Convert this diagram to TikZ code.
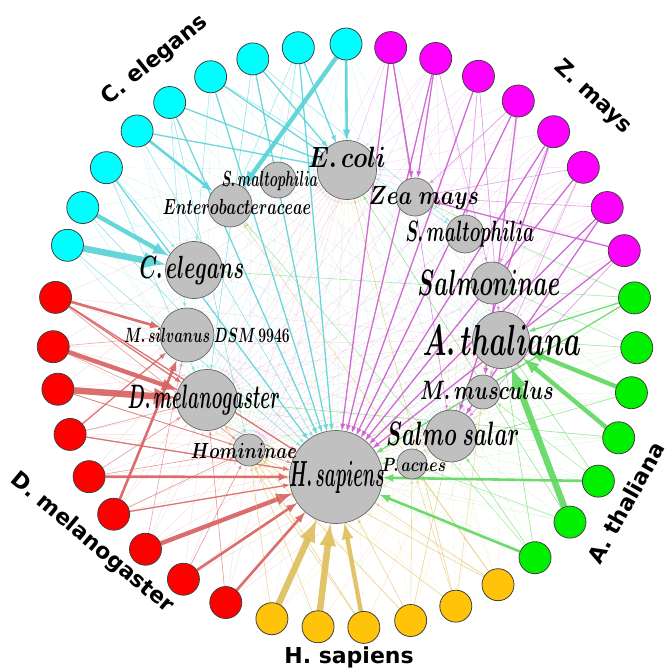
\documentclass[tikz,border=0pt]{standalone}
\usepackage{fontspec}
\newfontfamily\grpfont{DejaVu Sans}
\usetikzlibrary{arrows,backgrounds}

\definecolor{celcol}{RGB}{0,255,255}
\definecolor{dmcol}{RGB}{255,0,0}
\definecolor{hscol}{RGB}{255,195,10}
\definecolor{atcol}{RGB}{0,240,0}
\definecolor{zmcol}{RGB}{255,0,255}
\definecolor{celE}{RGB}{85,210,215}
\definecolor{dmE}{RGB}{215,95,95}
\definecolor{hsE}{RGB}{222,190,90}
\definecolor{atE}{RGB}{95,215,95}
\definecolor{zmE}{RGB}{200,85,205}
\definecolor{taxgray}{RGB}{192,192,192}

\begin{document}
\begin{tikzpicture}[x=1pt,y=-1pt,>=latex,
	leaf/.style={circle,draw=black!75,line width=0.8pt,minimum size=32pt,inner sep=0pt},
	taxon/.style={circle,draw=black!60,fill=taxgray,line width=0.7pt,inner sep=0pt},
	sp/.style={font=\Huge\boldmath,inner sep=0pt},
	grp/.style={font={\grpfont\bfseries\fontsize{22}{22}\selectfont},inner sep=0pt},
	w1/.style={line width=0.6pt,opacity=0.55},
	w2/.style={line width=1.3pt,opacity=0.85},
	w3/.style={line width=2.6pt,opacity=0.9},
	w4/.style={line width=4.4pt,opacity=0.9},
	w5/.style={line width=6.5pt,opacity=0.9},
	faint/.style={line width=0.4pt,opacity=0.22}]
	
	\useasboundingbox (0,0) rectangle (670,671);
	
	% outer ring
	\foreach \a [count=\i from 0] in {89.8,99.2,108.4,117.4,126.9,135.4,144.8,153.9,161.9}
		\node[leaf,fill=celcol] (ce\i) at ({345+292*cos(\a)},{336-292*sin(\a)}) {};
	\foreach \a [count=\i from 0] in {172.4,182.1,190.5,199.7,208.8,217.6,226.9,236.4,245.9}
		\node[leaf,fill=dmcol] (dm\i) at ({345+292*cos(\a)},{336-292*sin(\a)}) {};
	\foreach \a [count=\i from 0] in {255.5,264.7,273.7,283.0,292.3,301.6}
		\node[leaf,fill=hscol] (hs\i) at ({345+292*cos(\a)},{336-292*sin(\a)}) {};
	\foreach \a [count=\i from 0] in {310.6,320.4,330.2,339.6,348.8,357.7,367.5}
		\node[leaf,fill=atcol] (at\i) at ({345+292*cos(\a)},{336-292*sin(\a)}) {};
	\foreach \a [count=\i from 0] in {17.0,26.1,35.3,44.4,53.6,62.8,71.9,81.0}
		\node[leaf,fill=zmcol] (zm\i) at ({345+292*cos(\a)},{336-292*sin(\a)}) {};
	
	% taxa
	\node[taxon,minimum size=59pt] (ecoli) at (347,170) {};
	\node[taxon,minimum size=36pt] (smaltoL) at (278,180) {};
	\node[taxon,minimum size=44pt] (entero) at (230,205) {};
	\node[taxon,minimum size=57pt] (celeg) at (194,270) {};
	\node[taxon,minimum size=54pt] (msilv) at (187,335) {};
	\node[taxon,minimum size=61pt] (dmel) at (207,400) {};
	\node[taxon,minimum size=32pt] (homin) at (249,450) {};
	\node[taxon,minimum size=93pt] (hsap) at (336,477) {};
	\node[taxon,minimum size=38pt] (zea) at (415,197) {};
	\node[taxon,minimum size=38pt] (smaltoR) at (465,234) {};
	\node[taxon,minimum size=42pt] (salmonin) at (492,283) {};
	\node[taxon,minimum size=57pt] (athal) at (501,340) {};
	\node[taxon,minimum size=34pt] (mmus) at (483,392) {};
	\node[taxon,minimum size=52pt] (ssalar) at (451,436) {};
	\node[taxon,minimum size=30pt] (pacnes) at (412,464) {};
	
	\begin{scope}[on background layer]
		% faint web
		\foreach \g/\n/\c in {ce/8/celE,dm/8/dmE,hs/5/hsE,at/6/atE,zm/7/zmE}
			\foreach \i in {0,...,\n}
				\foreach \t in {hsap,homin,dmel,ssalar,ecoli,athal}
					\draw[->,faint,\c] (\g\i) -- (\t);
		
		% C. elegans
		\foreach \s/\t/\w in {ce0/entero/4,ce0/ecoli/3,ce1/ecoli/2,ce1/hsap/2,ce1/entero/1,ce1/smaltoL/1,
			ce2/ecoli/2,ce2/hsap/2,ce2/dmel/1,ce2/smaltoR/1,ce3/ecoli/2,ce3/hsap/2,ce3/smaltoR/1,ce3/celeg/1,
			ce4/ecoli/2,ce4/hsap/2,ce4/msilv/1,ce4/homin/1,ce5/entero/3,ce5/ecoli/2,ce5/hsap/1,
			ce6/hsap/2,ce6/celeg/1,ce6/dmel/1,ce7/celeg/4,ce7/hsap/1,ce8/celeg/5,ce8/hsap/1}
			\draw[->,w\w,celE] (\s) -- (\t);
		% D. melanogaster
		\foreach \s/\t/\w in {dm0/msilv/3,dm0/dmel/2,dm0/hsap/2,dm0/homin/1,dm1/dmel/4,dm1/hsap/1,dm1/msilv/1,
			dm2/dmel/5,dm2/hsap/1,dm2/homin/1,dm3/msilv/2,dm3/hsap/2,dm3/dmel/1,dm4/hsap/3,dm4/dmel/1,dm4/homin/1,
			dm5/msilv/3,dm5/hsap/2,dm5/homin/1,dm6/hsap/4,dm6/msilv/1,dm7/hsap/3,dm7/homin/1,dm8/hsap/3,dm8/dmel/1}
			\draw[->,w\w,dmE] (\s) -- (\t);
		% H. sapiens
		\foreach \s/\t/\w in {hs0/hsap/5,hs1/hsap/5,hs2/hsap/4,hs0/homin/1,hs1/homin/1,hs2/homin/1,hs3/homin/1,
			hs4/homin/1,hs5/homin/1,hs3/ssalar/1,hs3/pacnes/1,hs4/pacnes/1,hs4/mmus/1,hs5/pacnes/1,hs5/entero/1,
			hs4/ecoli/1,hs3/hsap/1,hs5/hsap/1,hs2/dmel/1}
			\draw[->,w\w,hsE] (\s) -- (\t);
		% A. thaliana
		\foreach \s/\t/\w in {at0/hsap/3,at0/entero/1,at0/athal/1,at0/ssalar/1,at1/athal/5,at1/ecoli/1,at1/pacnes/1,
			at2/hsap/3,at2/athal/1,at2/mmus/1,at3/athal/4,at3/dmel/1,at4/athal/4,at4/hsap/1,
			at5/athal/1,at5/salmonin/1,at6/hsap/2,at6/athal/2,at6/celeg/1,at6/zea/1}
			\draw[->,w\w,atE] (\s) -- (\t);
		% Z. mays
		\foreach \s/\t/\w in {zm0/zea/2,zm0/hsap/2,zm0/ssalar/1,zm1/hsap/2,zm1/ssalar/2,zm1/zea/1,
			zm2/hsap/2,zm2/mmus/1,zm2/zea/1,zm3/hsap/2,zm3/ssalar/2,zm3/salmonin/1,zm4/hsap/2,zm4/mmus/2,zm4/zea/1,
			zm5/hsap/2,zm5/athal/1,zm5/smaltoR/1,zm6/zea/2,zm6/hsap/2,zm6/salmonin/1,zm7/zea/2,zm7/hsap/2,zm7/ssalar/1}
			\draw[->,w\w,zmE] (\s) -- (\t);
	\end{scope}
	
	% taxon names
	\node[sp,xscale=0.96,yscale=1.18] (ecoliT) at (347,157) {$E.\,coli$};
	\node[sp,xscale=0.53,yscale=0.88] (smaltoLT) at (270,181) {$S.\,maltophilia$};
	\node[sp,xscale=0.61,yscale=0.88] (enteroT) at (237,207) {$Enterobacteraceae$};
	\node[sp,xscale=0.80,yscale=1.29] (celegT) at (192,270) {$C.\,elegans$};
	\node[sp,xscale=0.56,yscale=0.83] (msilvT) at (207,335) {$M.\,silvanus\ DSM\,9946$};
	\node[sp,xscale=0.71,yscale=1.36] (dmelT) at (204,400) {$D.\,melanogaster$};
	\node[sp,xscale=0.70,yscale=0.88] (hominT) at (244,451) {$Homininae$};
	\node[sp,xscale=0.70,yscale=1.46] (hsapT) at (337,477) {$H.\,sapiens$};
	\node[sp,xscale=0.86,yscale=1.06] (zeaT) at (424,198) {$Zea\ mays$};
	\node[sp,xscale=0.71,yscale=1.18] (smaltoRT) at (470,234) {$S.\,maltophilia$};
	\node[sp,xscale=0.90,yscale=1.47] (salmoninT) at (489,283) {$Salmoninae$};
	\node[sp,xscale=1.09,yscale=1.75] (athalT) at (502,340) {$A.\,thaliana$};
	\node[sp,xscale=0.80,yscale=1.07] (mmusT) at (487,390) {$M.\,musculus$};
	\node[sp,xscale=0.84,yscale=1.36] (ssalarT) at (453,434) {$Salmo\ salar$};
	\node[sp,xscale=0.61,yscale=0.77] (pacnesT) at (414,465) {$P.\,acnes$};
	
	% groups
	\node[grp,rotate=39] (celG) at (155,60) {C. elegans};
	\node[grp,rotate=-43] (zmG) at (593,97) {Z. mays};
	\node[grp,rotate=61] (atG) at (626,503) {A. thaliana};
	\node[grp] (hsG) at (349,657) {H. sapiens};
	\node[grp,rotate=-40] (dmG) at (92,543) {D. melanogaster};
	
\end{tikzpicture}
\end{document}
